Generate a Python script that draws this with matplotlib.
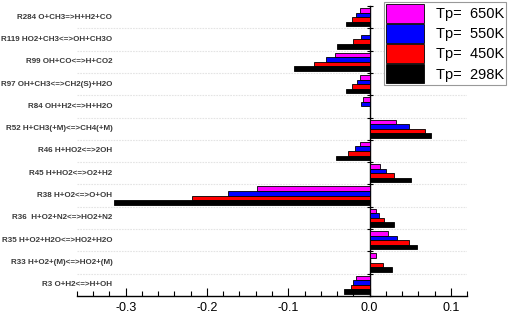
import matplotlib
matplotlib.use("Agg")
import matplotlib.pyplot as plt
import numpy as np
from matplotlib.ticker import MultipleLocator

plt.rcParams['font.family'] = ['Liberation Sans', 'DejaVu Sans']

reactions = [
    "R284 O+CH3=>H+H2+CO",
    "R119 HO2+CH3<=>OH+CH3O",
    "R99 OH+CO<=>H+CO2",
    "R97 OH+CH3<=>CH2(S)+H2O",
    "R84 OH+H2<=>H+H2O",
    "R52 H+CH3(+M)<=>CH4(+M)",
    "R46 H+HO2<=>2OH",
    "R45 H+HO2<=>O2+H2",
    "R38 H+O2<=>O+OH",
    "R36  H+O2+N2<=>HO2+N2",
    "R35 H+O2+H2O<=>HO2+H2O",
    "R33 H+O2+(M)<=>HO2+(M)",
    "R3 O+H2<=>H+OH",
]
tp650 = [-0.012, 0.000, -0.042, -0.012, -0.008, 0.033, -0.012, 0.013, -0.139, 0.008, 0.023, 0.008, -0.017]
tp550 = [-0.017, -0.011, -0.053, -0.016, -0.011, 0.049, -0.018, 0.020, -0.174, 0.012, 0.034, 0.000, -0.020]
tp450 = [-0.022, -0.020, -0.068, -0.021, 0.000, 0.068, -0.026, 0.030, -0.218, 0.018, 0.048, 0.017, -0.023]
tp298 = [-0.029, -0.040, -0.093, -0.029, 0.000, 0.076, -0.041, 0.051, -0.315, 0.030, 0.058, 0.028, -0.031]
series = [("Tp=  650K", tp650, "#ff00ff"),
          ("Tp=  550K", tp550, "#0000ff"),
          ("Tp=  450K", tp450, "#ff0000"),
          ("Tp=  298K", tp298, "#000000")]

fig = plt.figure(figsize=(5.12, 3.17), dpi=100)
ax = fig.add_axes([77/512, 1-296/317, (467-77)/512, (296-6)/317])

n = len(reactions)
ypos = np.arange(n)[::-1]  # top reaction at top
h = 0.205
offsets = [1.5*h, 0.5*h, -0.5*h, -1.5*h]
for (lab, vals, col), off in zip(series, offsets):
    ax.barh(ypos + off, vals, height=h, color=col, edgecolor='black',
            linewidth=0.6, label=lab, zorder=3)

ax.set_xlim(-0.36, 0.12)
ax.set_ylim(-0.5, n - 0.5)

# gridlines between categories
for b in np.arange(0.5, n - 0.5, 1.0):
    ax.axhline(b, color='#e4e4e4', linewidth=0.8, linestyle=(0, (1.5, 1)), zorder=1)

# spines
ax.spines['top'].set_visible(False)
ax.spines['right'].set_visible(False)
ax.spines['left'].set_position(('data', 0))
ax.spines['left'].set_linewidth(1.0)
ax.spines['bottom'].set_linewidth(1.0)
ax.set_yticks(np.arange(-0.5, n, 1.0))
ax.set_yticklabels([])
ax.tick_params(axis='y', direction='inout', length=4, width=0.8)

ax.xaxis.set_major_locator(MultipleLocator(0.1))
ax.xaxis.set_minor_locator(MultipleLocator(0.02))
ax.tick_params(axis='x', which='major', direction='in', length=6, width=0.8, labelsize=9, pad=4)
ax.tick_params(axis='x', which='minor', direction='in', length=3.5, width=0.8)
ax.set_xticks([-0.3, -0.2, -0.1, 0.0, 0.1])
ax.set_xticklabels(["-0.3", "-0.2", "-0.1", "0.0", "0.1"])

for y, r in zip(ypos, reactions):
    ax.text(-0.3165, y, r, ha='right', va='center', fontsize=5.8,
            fontweight='bold', color='#3a3a3a', clip_on=False, zorder=4)

leg = ax.legend(loc='upper right', bbox_to_anchor=(1.1, 1.015), fontsize=10.5,
                handlelength=2.6, handleheight=1.6, labelspacing=0.1,
                borderpad=0.15, handletextpad=0.8, fancybox=False,
                framealpha=1, edgecolor='#999999', borderaxespad=0)
leg.get_frame().set_linewidth(0.8)

fig.savefig("out.png", dpi=100)
